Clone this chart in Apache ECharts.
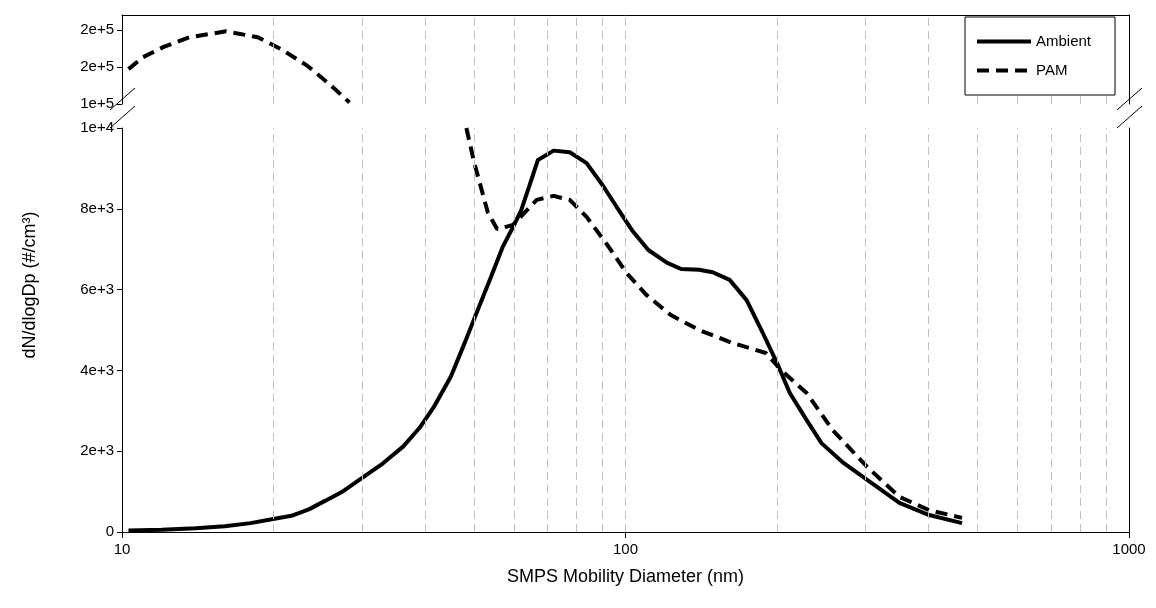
<!DOCTYPE html>
<html><head><meta charset="utf-8">
<script src="https://cdn.jsdelivr.net/npm/echarts@6/dist/echarts.min.js"></script>
<style>html,body{margin:0;padding:0;background:#fff}#c{width:1156px;height:608px}</style>
</head><body><div id="c"></div>
<script>
const ambX = [10.3,12,14,16,18,20.1,21.7,23.5,25.3,27.5,29.5,33,36.2,39,41.6,45,48,50.9,54,57,59.5,62,64.4,67,72,77.5,83.7,90,96,103,111,121,129,140,149,161,174,187,200,212,229,245,271,302,350,401,466];
const ambY = [40,55,90,140,220,330,400,560,770,1010,1280,1700,2120,2580,3090,3850,4700,5500,6300,7050,7500,7950,8560,9210,9440,9400,9130,8590,8050,7470,6980,6660,6510,6490,6430,6240,5740,4950,4180,3440,2770,2200,1710,1290,720,420,220];
const pamTopX = [10.3,11,12.1,13.6,16.1,18.6,20.7,23.4,26.1,28.3];
const pamTopY = [147000,163000,177000,190000,198000,190000,174000,151000,124000,102000];
const pamX = [48.3,50,53.3,55.6,59.8,66.6,72,77.5,83.7,91.5,100.5,110,123,140,163,190,204,229,258,302,350,401,466];
const pamY = [10000,9170,7900,7500,7600,8220,8320,8220,7800,7150,6410,5870,5370,5000,4680,4430,4000,3440,2520,1610,870,540,350];
const gridX = [20,30,40,50,60,70,80,90,100,200,300,400,500,600,700,800,900];
const topTicks = {100000:'1e+5',150000:'2e+5',200000:'2e+5'};
const botTicks = {0:'0',2000:'2e+3',4000:'4e+3',6000:'6e+3',8000:'8e+3',10000:'1e+4'};

const zip = (a,b)=>a.map((v,i)=>[v,b[i]]);
const font = 'Liberation Sans, Arial, sans-serif';
const chart = echarts.init(document.getElementById('c'));
const dashType = [12,7];
const vlines = {silent:true, symbol:'none', label:{show:false},
  lineStyle:{color:'#c0c0c0', type:[8,5], width:1}, data:gridX.map(v=>({xAxis:v}))};
chart.setOption({
  animation:false,
  textStyle:{fontFamily:font},
  grid:[{left:122,right:27,top:15,height:89},{left:122,right:27,top:128,height:404}],
  xAxis:[
    {type:'log',gridIndex:0,min:10,max:1000,logBase:10,position:'top',
     axisLine:{lineStyle:{color:'#000'}},axisTick:{show:false},axisLabel:{show:false},splitLine:{show:false}},
    {type:'log',gridIndex:1,min:10,max:1000,logBase:10,
     axisLine:{onZero:false,lineStyle:{color:'#000'}},axisTick:{length:6,lineStyle:{color:'#000'}},
     axisLabel:{color:'#000',fontSize:15,margin:10,formatter:v=>String(Math.round(v))},splitLine:{show:false},
     name:'SMPS Mobility Diameter (nm)',nameLocation:'middle',nameGap:36,
     nameTextStyle:{color:'#000',fontSize:18}}
  ],
  yAxis:[
    {type:'value',gridIndex:0,min:100000,max:220000,interval:50000,
     axisLine:{show:true,lineStyle:{color:'#000'}},axisTick:{show:true,lineStyle:{color:'#000'}},
     axisLabel:{color:'#000',fontSize:15,formatter:v=>topTicks[v]||'',showMaxLabel:false},splitLine:{show:false}},
    {type:'value',gridIndex:1,min:0,max:10000,interval:2000,
     axisLine:{show:true,lineStyle:{color:'#000'}},axisTick:{show:true,lineStyle:{color:'#000'}},
     axisLabel:{color:'#000',fontSize:15,formatter:v=>botTicks[v]},splitLine:{show:false}},
    {type:'value',gridIndex:0,position:'right',min:100000,max:220000,
     axisLine:{show:true,lineStyle:{color:'#000'}},axisTick:{show:false},axisLabel:{show:false},splitLine:{show:false}},
    {type:'value',gridIndex:1,position:'right',min:0,max:10000,
     axisLine:{show:true,lineStyle:{color:'#000'}},axisTick:{show:false},axisLabel:{show:false},splitLine:{show:false}}
  ],
  legend:{left:965,top:17,orient:'vertical',itemWidth:54,itemHeight:14,itemGap:14,z:50,zlevel:1,
    itemStyle:{opacity:0},lineStyle:{width:4},backgroundColor:'#fff',
    borderColor:'#000',borderWidth:1,borderRadius:0,padding:[17,24,17,10],
    textStyle:{color:'#000',fontSize:15},data:['Ambient','PAM']},
  series:[
    {type:'line',name:'_gt',xAxisIndex:0,yAxisIndex:0,data:[],markLine:vlines},
    {type:'line',name:'_gb',xAxisIndex:1,yAxisIndex:1,data:[],markLine:vlines},
    {type:'line',name:'Ambient',xAxisIndex:1,yAxisIndex:1,data:zip(ambX,ambY),symbol:'none',
     lineStyle:{color:'#000',width:4},itemStyle:{color:'#000'}},
    {type:'line',name:'PAM',xAxisIndex:1,yAxisIndex:1,data:zip(pamX,pamY),symbol:'none',clip:true,
     lineStyle:{color:'#000',width:4,type:dashType},itemStyle:{color:'#000'}},
    {type:'line',name:'PAM',xAxisIndex:0,yAxisIndex:0,data:zip(pamTopX,pamTopY),symbol:'none',clip:true,
     lineStyle:{color:'#000',width:4,type:dashType},itemStyle:{color:'#000'}}
  ],
  graphic:[
    {type:'text',rotation:Math.PI/2,x:30,y:285,
     style:{text:'dN/dlogDp (#/cm³)',fill:'#000',font:'18px '+font,textAlign:'center',textVerticalAlign:'middle'}},
    {type:'line',shape:{x1:110,y1:110,x2:135,y2:88},style:{stroke:'#000',lineWidth:1}},
    {type:'line',shape:{x1:110,y1:128,x2:135,y2:106},style:{stroke:'#000',lineWidth:1}},
    {type:'line',shape:{x1:1117,y1:110,x2:1142,y2:88},style:{stroke:'#000',lineWidth:1}},
    {type:'line',shape:{x1:1117,y1:128,x2:1142,y2:106},style:{stroke:'#000',lineWidth:1}}
  ]
});
</script></body></html>
